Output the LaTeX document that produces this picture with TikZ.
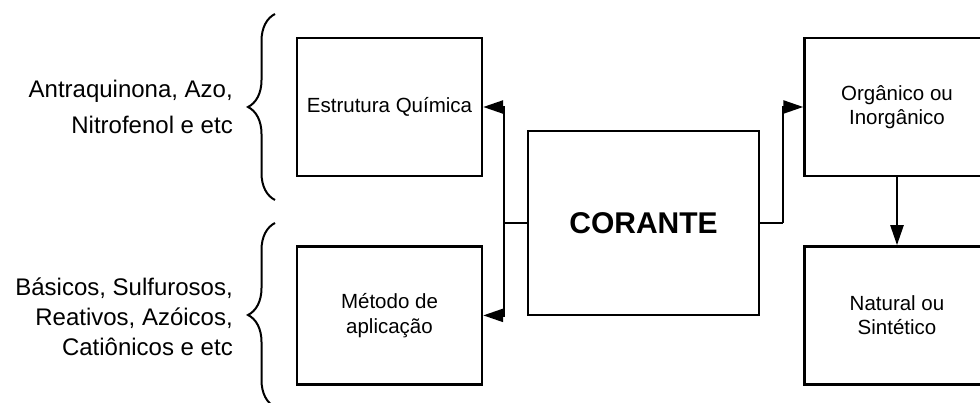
\documentclass[tikz,border=0pt]{standalone}
\usepackage{fontspec}
\setmainfont{Liberation Sans}
\usetikzlibrary{arrows.meta, positioning, calc, decorations.pathreplacing}

\begin{document}
\begin{tikzpicture}
   [
      x=1pt, y=1pt,
      class box/.style={rectangle, draw, line width=2.4pt, minimum width=185pt,
                        minimum height=138pt, align=center,
                        font=\fontsize{20.5}{24.5}\selectfont},
      main box/.style={rectangle, draw, line width=2.4pt, minimum width=231pt,
                       minimum height=184pt, font=\fontsize{30}{36}\selectfont\bfseries},
      link/.style={line width=2.4pt},
      flow/.style={line width=2.4pt, -{Triangle[length=20pt, width=13pt]}},
      curly/.style={line width=2pt, decorate, decoration={brace, amplitude=27pt}},
      side note/.style={align=right, inner sep=0pt, font=\fontsize{24}{36}\selectfont}
   ]

   \useasboundingbox (0,0) rectangle (980,403);

   % =======================================================
   % Central node
   % =======================================================

   \node[main box] (corante) at (643.5,180) {CORANTE};

   % =======================================================
   % Left column: classification boxes
   % =======================================================

   \node[class box] (estrutura) at (389.5,296) {Estrutura Química};
   \node[class box, below=68pt of estrutura] (metodo) {Método de\\aplicação};

   % Split point left of the central node
   \coordinate (split left) at ($(corante.west)+(-23,0)$);

   \draw[link] (corante.west) -- (split left);
   \draw[flow] (split left) |- (estrutura.east);
   \draw[flow] (split left) |- (metodo.east);

   % =======================================================
   % Right column: origin boxes
   % =======================================================

   \node[class box] (organico) at (897,296) {Orgânico ou\\Inorgânico};
   \node[class box, below=68pt of organico] (natural) {Natural ou\\Sintético};

   % Split point right of the central node
   \coordinate (split right) at ($(corante.east)+(23,0)$);

   \draw[link] (corante.east) -- (split right);
   \draw[flow] (split right) |- (organico.west);
   \draw[flow] (organico) -- (natural);

   % =======================================================
   % Braces with examples
   % =======================================================

   \coordinate (brace top a) at (275,203);
   \coordinate (brace top b) at (275,389);
   \coordinate (tip top) at (248,296);
   \draw[curly] (brace top a) -- (brace top b);
   \node[side note, left=15pt of tip top] (exemplos estrutura)
      {Antraquinona, Azo,\\Nitrofenol e etc};

   \coordinate (brace bottom a) at (275,-4);
   \coordinate (brace bottom b) at (275,180);
   \coordinate (tip bottom) at (248,86);
   \draw[curly] (brace bottom a) -- (brace bottom b);
   \node[side note, font=\fontsize{24}{30}\selectfont, left=15pt of tip bottom] (exemplos metodo)
      {Básicos, Sulfurosos,\\Reativos, Azóicos,\\Catiônicos e etc};

\end{tikzpicture}
\end{document}
